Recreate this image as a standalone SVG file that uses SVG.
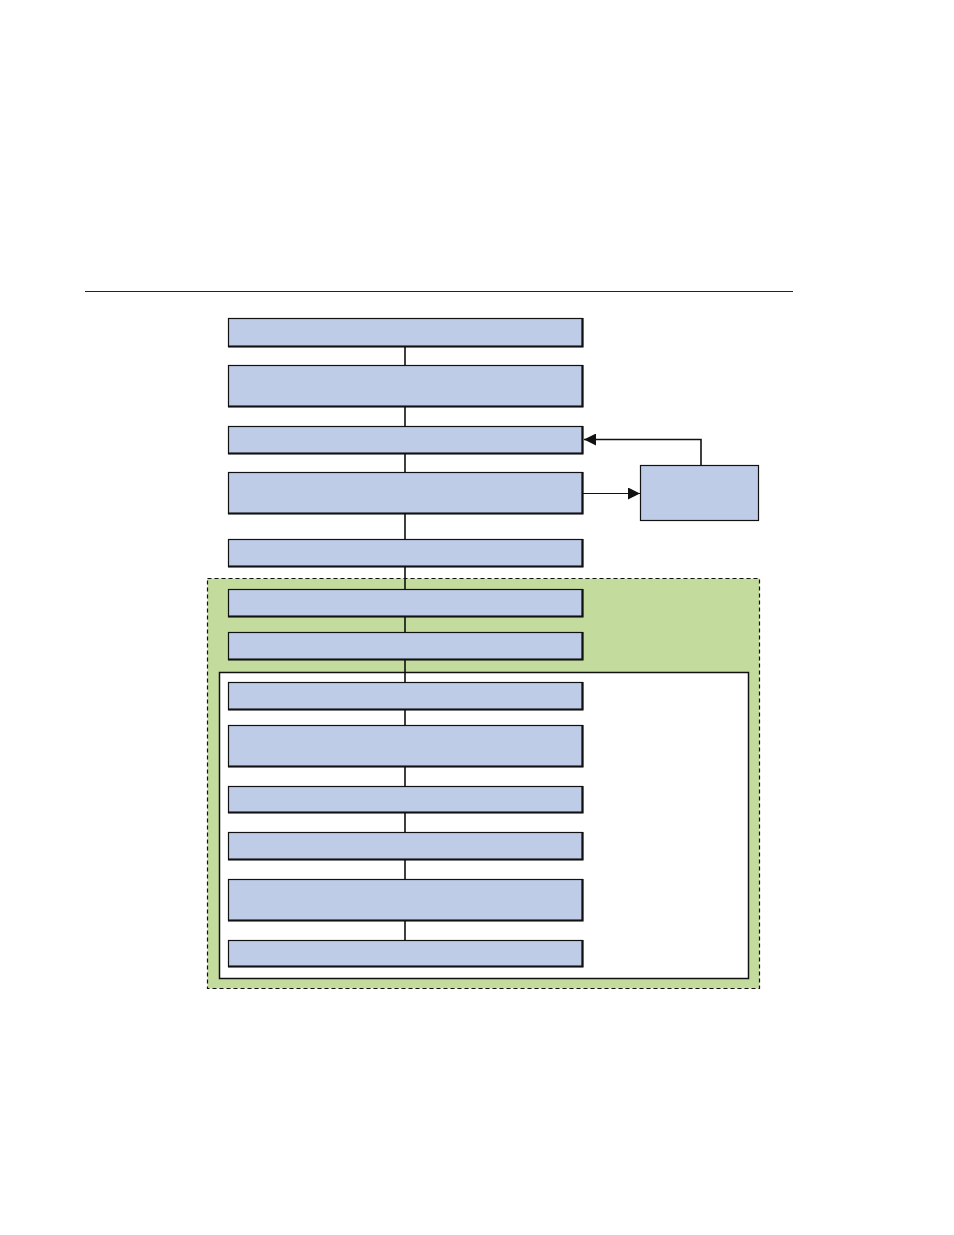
<svg xmlns="http://www.w3.org/2000/svg" width="954" height="1235" viewBox="0 0 954 1235">
<defs>
<style>
.n{fill:#bfcce8;stroke:#111;stroke-width:1.2}
.sh{fill:none;stroke:#111;stroke-width:2.2}
.c{fill:none;stroke:#111;stroke-width:1.6}
.a{fill:none;stroke:#111;stroke-width:1.2}
</style>
<marker id="ah" viewBox="0 0 10 10" refX="10" refY="5" markerWidth="12" markerHeight="12" markerUnits="userSpaceOnUse" orient="auto"><path d="M0,0L10,5L0,10z" fill="#111"/></marker>
</defs>
<rect width="954" height="1235" fill="#fff"/>
<line x1="85" y1="291.5" x2="793" y2="291.5" stroke="#222" stroke-width="1"/>
<g id="group-outer"><rect x="207.5" y="578.5" width="552" height="410" fill="#c3db9c" stroke="#111" stroke-width="1.2" stroke-dasharray="4,3"/></g>
<g id="group-inner"><rect x="219.5" y="672.5" width="529" height="306" fill="#fff" stroke="#111" stroke-width="1.5"/></g>
<g id="connectors">
<path class="c" d="M405,346V365M405,407V426M405,454V472M405,514V539M405,567V589M405,617V632M405,660V682M405,710V725M405,767V786M405,813V832M405,860V879M405,921V940"/>
<path class="a" d="M583,493.5H640" marker-end="url(#ah)"/>
<path class="c" d="M701,465V439.5H584" marker-end="url(#ah)"/>
</g>
<g id="n1"><rect class="n" x="228.5" y="318.5" width="354" height="28"/><path class="sh" d="M582.5,318V346.5H228"/></g>
<g id="n2"><rect class="n" x="228.5" y="365.5" width="354" height="41"/><path class="sh" d="M582.5,365V406.5H228"/></g>
<g id="n3"><rect class="n" x="228.5" y="426.5" width="354" height="27"/><path class="sh" d="M582.5,426V453.5H228"/></g>
<g id="n4"><rect class="n" x="228.5" y="472.5" width="354" height="41"/><path class="sh" d="M582.5,472V513.5H228"/></g>
<g id="n5"><rect class="n" x="228.5" y="539.5" width="354" height="27"/><path class="sh" d="M582.5,539V566.5H228"/></g>
<g id="n6"><rect class="n" x="228.5" y="589.5" width="354" height="27"/><path class="sh" d="M582.5,589V616.5H228"/></g>
<g id="n7"><rect class="n" x="228.5" y="632.5" width="354" height="27"/><path class="sh" d="M582.5,632V659.5H228"/></g>
<g id="n8"><rect class="n" x="228.5" y="682.5" width="354" height="27"/><path class="sh" d="M582.5,682V709.5H228"/></g>
<g id="n9"><rect class="n" x="228.5" y="725.5" width="354" height="41"/><path class="sh" d="M582.5,725V766.5H228"/></g>
<g id="n10"><rect class="n" x="228.5" y="786.5" width="354" height="26"/><path class="sh" d="M582.5,786V812.5H228"/></g>
<g id="n11"><rect class="n" x="228.5" y="832.5" width="354" height="27"/><path class="sh" d="M582.5,832V859.5H228"/></g>
<g id="n12"><rect class="n" x="228.5" y="879.5" width="354" height="41"/><path class="sh" d="M582.5,879V920.5H228"/></g>
<g id="n13"><rect class="n" x="228.5" y="940.5" width="354" height="26"/><path class="sh" d="M582.5,940V966.5H228"/></g>
<g id="side"><rect class="n" x="640.5" y="465.5" width="118" height="55" stroke-width="1.5"/></g>
</svg>
